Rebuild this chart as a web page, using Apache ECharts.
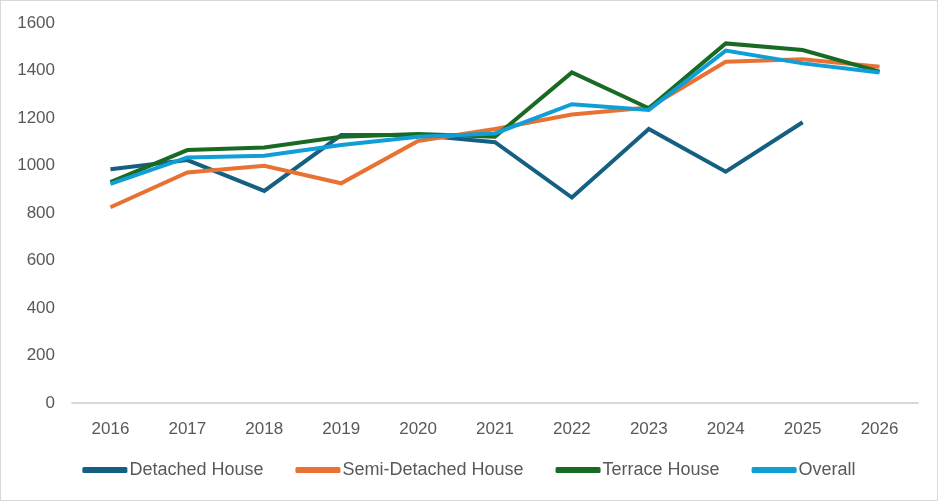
<!DOCTYPE html>
<html>
<head>
<meta charset="utf-8">
<script src="https://cdn.jsdelivr.net/npm/echarts@6/dist/echarts.min.js"></script>
<style>
html,body{margin:0;padding:0;background:#fff;}
#wrap{position:absolute;left:0;top:0;width:936px;height:499px;border:1px solid #d9d9d9;}
#c{width:936px;height:499px;}
</style>
</head>
<body>
<div id="wrap"><div id="c"></div></div>
<script>
const years = ['2016','2017','2018','2019','2020','2021','2022','2023','2024','2025','2026'];
const detached = [984, 1023, 893, 1128, 1128, 1098, 865, 1154, 974, 1182, null];
const semiDetached = [824, 971, 999, 925, 1103, 1154, 1215, 1244, 1437, 1447, 1416];
const terrace = [930, 1065, 1076, 1121, 1133, 1121, 1392, 1241, 1514, 1486, 1395];
const overall = [923, 1034, 1041, 1086, 1121, 1135, 1258, 1234, 1484, 1430, 1392];
const yMin = 0, yMax = 1600, yStep = 200;

const names = ['Detached House','Semi-Detached House','Terrace House','Overall'];
const colors = ['#156082','#E97132','#196B24','#0F9ED5'];
const datas = [detached, semiDetached, terrace, overall];

const chart = echarts.init(document.getElementById('c'));
const txt = '#595959';
const ff = 'Liberation Sans, Arial, sans-serif';
chart.setOption({
  animation:false,
  color: colors,
  grid:{left:71, right:19, top:22, bottom:97},
  legend:{
    bottom:16, left:'center',
    itemWidth:45, itemHeight:6, itemGap:32,
    icon:'roundRect',
    textStyle:{color:txt, fontSize:18, fontFamily:ff, padding:[0,0,0,-3]},
    data:names
  },
  xAxis:{
    type:'category', data:years, boundaryGap:true,
    axisLine:{lineStyle:{color:'#d9d9d9', width:2}},
    axisTick:{show:false},
    axisLabel:{color:txt, fontSize:17, margin:18, fontFamily:ff}
  },
  yAxis:{
    type:'value', min:yMin, max:yMax, interval:yStep,
    axisLine:{show:false}, axisTick:{show:false},
    splitLine:{show:false},
    axisLabel:{color:txt, fontSize:17, margin:17, fontFamily:ff, formatter:v=>String(v)}
  },
  series: names.map((n,i)=>({
    name:n, type:'line', data:datas[i],
    showSymbol:false, symbol:'none',
    lineStyle:{width:4, color:colors[i], join:'miter'},
    itemStyle:{color:colors[i]},
    connectNulls:false
  }))
});
</script>
</body>
</html>
